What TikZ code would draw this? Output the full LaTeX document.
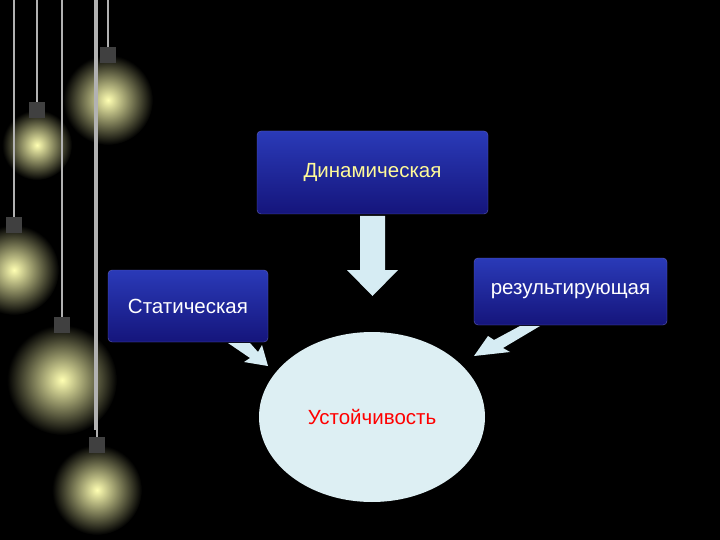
\documentclass[tikz,border=0pt]{standalone}
\usepackage{fontspec}
\setmainfont{Liberation Sans}
\usetikzlibrary{shapes.geometric,shapes.arrows}
\definecolor{boxblue}{HTML}{1A1A9A}
\definecolor{boxtop}{HTML}{2A3AB8}
\definecolor{arr}{HTML}{D6ECF3}
\definecolor{ell}{HTML}{DDEFF3}
\tikzset{
 box/.style={draw=boxblue!70!white, rounded corners=4pt, top color=boxtop, bottom color=boxblue!80!black, font=\fontsize{20.5}{24}\selectfont, text=white, inner sep=0pt},
 bulb/.style={inner color=yellow!30!white, outer color=black, draw=none},
 cord/.style={draw=gray!60, line width=1.5pt},
}
\begin{document}
\begin{tikzpicture}[x=1pt,y=-1pt]
\fill[black] (0,0) rectangle (720,540);
\useasboundingbox (0,0) rectangle (720,540);
% bulbs
\foreach \x/\y/\r in {108/100/45, 37/145/35, 14/270/45, 62/380/55, 97/490/45}{
  \draw[cord] (\x,0) -- (\x,\y-\r);
  \shade[bulb] (\x,\y) circle (\r);
  \fill[gray!50!black] (\x-8,\y-\r-8) rectangle (\x+8,\y-\r+8);
}
\draw[cord] (95,0) -- (95,430);
% boxes
\node[box, minimum width=231, minimum height=83] (dyn) at (372.5,172.5) {\textcolor{yellow!40!white}{Динамическая}};
\node[box, minimum width=160, minimum height=72] (stat) at (188,306) {Статическая};
\node[box, minimum width=193, minimum height=67] (res) at (570.5,291.5) {результирующая};
\node[ellipse, fill=ell, minimum width=226, minimum height=170, font=\fontsize{20.5}{24}\selectfont, text=red] (ust) at (372,417) {Устойчивость};
% block arrows
\fill[arr] (360,216) -- (385,216) -- (385,270) -- (398,270) -- (372.5,296) -- (347,270) -- (360,270) -- cycle;
\fill[arr] (228,343) -- (250,343) -- (258,352) -- (262,345) -- (268,366) -- (244,362) -- (250,358) -- cycle;
\fill[arr] (520,326) -- (540,326) -- (503,348) -- (510,352) -- (474,356) -- (488,336) -- (494,340) -- cycle;
\end{tikzpicture}
\end{document}
